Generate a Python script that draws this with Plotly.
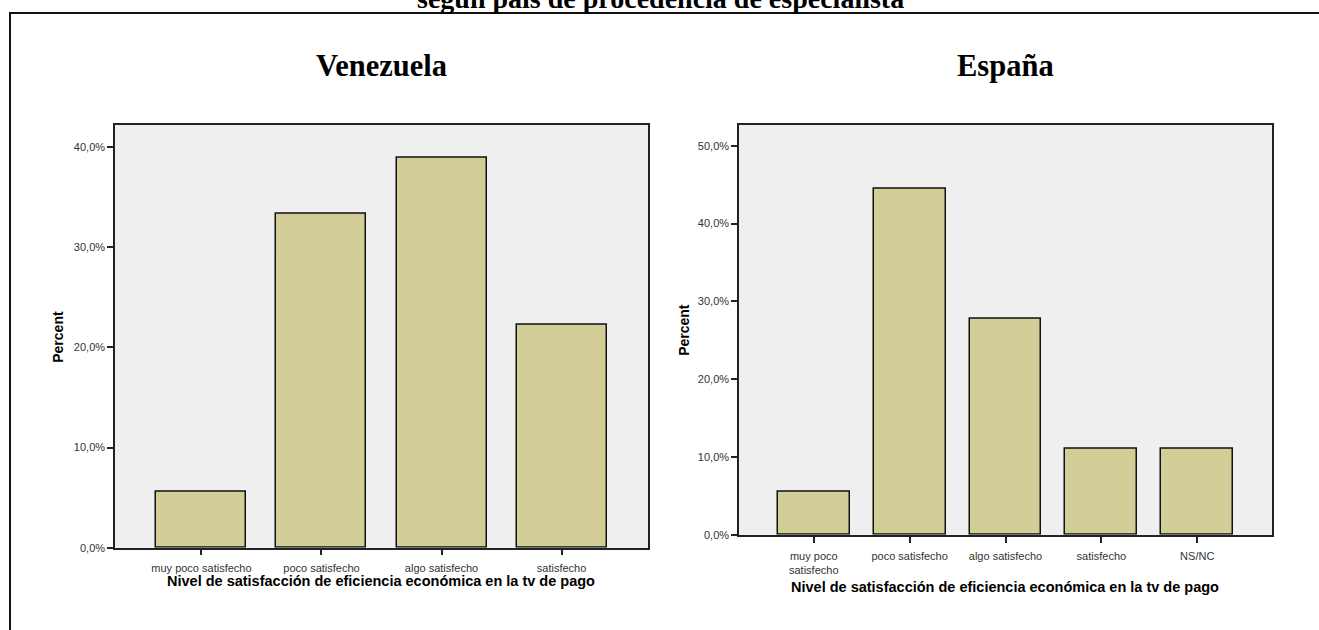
import plotly.graph_objects as go

# Satisfaction levels and percentages per country of origin of the specialist
ven_categories = ["muy poco satisfecho", "poco satisfecho", "algo satisfecho", "satisfecho"]
ven_percent = [5.56, 33.33, 38.89, 22.22]

esp_categories = ["muy poco<br>satisfecho", "poco satisfecho", "algo satisfecho", "satisfecho", "NS/NC"]
esp_percent = [5.56, 44.44, 27.78, 11.11, 11.11]

ven_ticks = [0, 10, 20, 30, 40]
ven_ticktext = ["0,0%", "10,0%", "20,0%", "30,0%", "40,0%"]
esp_ticks = [0, 10, 20, 30, 40, 50]
esp_ticktext = ["0,0%", "10,0%", "20,0%", "30,0%", "40,0%", "50,0%"]

main_title = "según país de procedencia de especialista"
x_title = "Nivel de satisfacción de eficiencia económica en la tv de pago"
y_title = "Percent"

W, H = 1319, 630
BAR_FILL = "#D3CE98"
BAR_LINE = "#111111"
PLOT_BG = "#EFEFEF"
SANS = "Liberation Sans, Arial, sans-serif"
SERIF = "Liberation Serif, Times New Roman, serif"


def px_x(p):
    return p / W


def px_y(p):
    return 1 - p / H


fig = go.Figure()
fig.add_trace(go.Bar(x=list(range(len(ven_categories))), y=ven_percent, width=0.75,
                     marker=dict(color=BAR_FILL, line=dict(color=BAR_LINE, width=1.5)),
                     xaxis="x", yaxis="y", showlegend=False, hoverinfo="y"))
fig.add_trace(go.Bar(x=list(range(len(esp_categories))), y=esp_percent, width=0.75,
                     marker=dict(color=BAR_FILL, line=dict(color=BAR_LINE, width=1.5)),
                     xaxis="x2", yaxis="y2", showlegend=False, hoverinfo="y"))

axis_common = dict(showline=True, mirror=True, linecolor="#222222", linewidth=1.5,
                   showgrid=False, zeroline=False, ticks="outside", ticklen=6,
                   tickwidth=1.5, tickcolor="#222222",
                   tickfont=dict(family=SANS, size=11, color="#333333"))

# Plot-area boxes in pixels: Venezuela 115..648 x 126..553, España 739..1272 x 126..540
fig.update_layout(
    width=W, height=H,
    margin=dict(l=0, r=0, t=0, b=0),
    paper_bgcolor="white",
    plot_bgcolor=PLOT_BG,
    bargap=0,
    xaxis=dict(domain=[px_x(115), px_x(648)], anchor="y",
               range=[-0.72, len(ven_categories) - 1 + 0.72],
               tickmode="array", tickvals=list(range(len(ven_categories))),
               ticktext=ven_categories, ticklabelstandoff=3, **axis_common),
    yaxis=dict(domain=[px_y(553), px_y(126)], anchor="x",
               range=[0, 42.2], tickmode="array", tickvals=ven_ticks,
               ticktext=ven_ticktext, **axis_common),
    xaxis2=dict(domain=[px_x(739), px_x(1272)], anchor="y2",
                range=[-0.78, len(esp_categories) - 1 + 0.78],
                tickmode="array", tickvals=list(range(len(esp_categories))),
                ticktext=esp_categories, ticklabelstandoff=4, **axis_common),
    yaxis2=dict(domain=[px_y(540), px_y(126)], anchor="x2",
                range=[0, 52.7], tickmode="array", tickvals=esp_ticks,
                ticktext=esp_ticktext, **axis_common),
)

annotations = [
    # overall title, partially above the page edge
    dict(text="<b>" + main_title + "</b>", x=px_x(660), y=px_y(16), xref="paper", yref="paper",
         xanchor="center", yanchor="bottom", showarrow=False,
         font=dict(family=SERIF, size=28, color="black")),
    dict(text="<b>Venezuela</b>", x=px_x(381), y=px_y(67), xref="paper", yref="paper",
         xanchor="center", yanchor="middle", showarrow=False,
         font=dict(family=SERIF, size=30.5, color="black")),
    dict(text="<b>España</b>", x=px_x(1005), y=px_y(67), xref="paper", yref="paper",
         xanchor="center", yanchor="middle", showarrow=False,
         font=dict(family=SERIF, size=30.5, color="black")),
    dict(text="<b>" + x_title + "</b>", x=px_x(381), y=px_y(587), xref="paper", yref="paper",
         xanchor="center", yanchor="middle", showarrow=False,
         font=dict(family=SANS, size=14.5, color="black")),
    dict(text="<b>" + x_title + "</b>", x=px_x(1005), y=px_y(593), xref="paper", yref="paper",
         xanchor="center", yanchor="middle", showarrow=False,
         font=dict(family=SANS, size=14.5, color="black")),
    dict(text="<b>" + y_title + "</b>", x=px_x(58), y=px_y(340), xref="paper", yref="paper",
         xanchor="center", yanchor="middle", showarrow=False, textangle=-90,
         font=dict(family=SANS, size=14, color="black")),
    dict(text="<b>" + y_title + "</b>", x=px_x(684), y=px_y(333), xref="paper", yref="paper",
         xanchor="center", yanchor="middle", showarrow=False, textangle=-90,
         font=dict(family=SANS, size=14, color="black")),
]
fig.update_layout(annotations=annotations)

# outer frame running off the right and bottom edges
fig.add_shape(type="rect", xref="paper", yref="paper",
              x0=px_x(10), x1=px_x(W + 20), y0=px_y(H + 20), y1=px_y(13),
              line=dict(color="#111111", width=2), fillcolor="rgba(0,0,0,0)", layer="above")

fig.write_html("out.html")
